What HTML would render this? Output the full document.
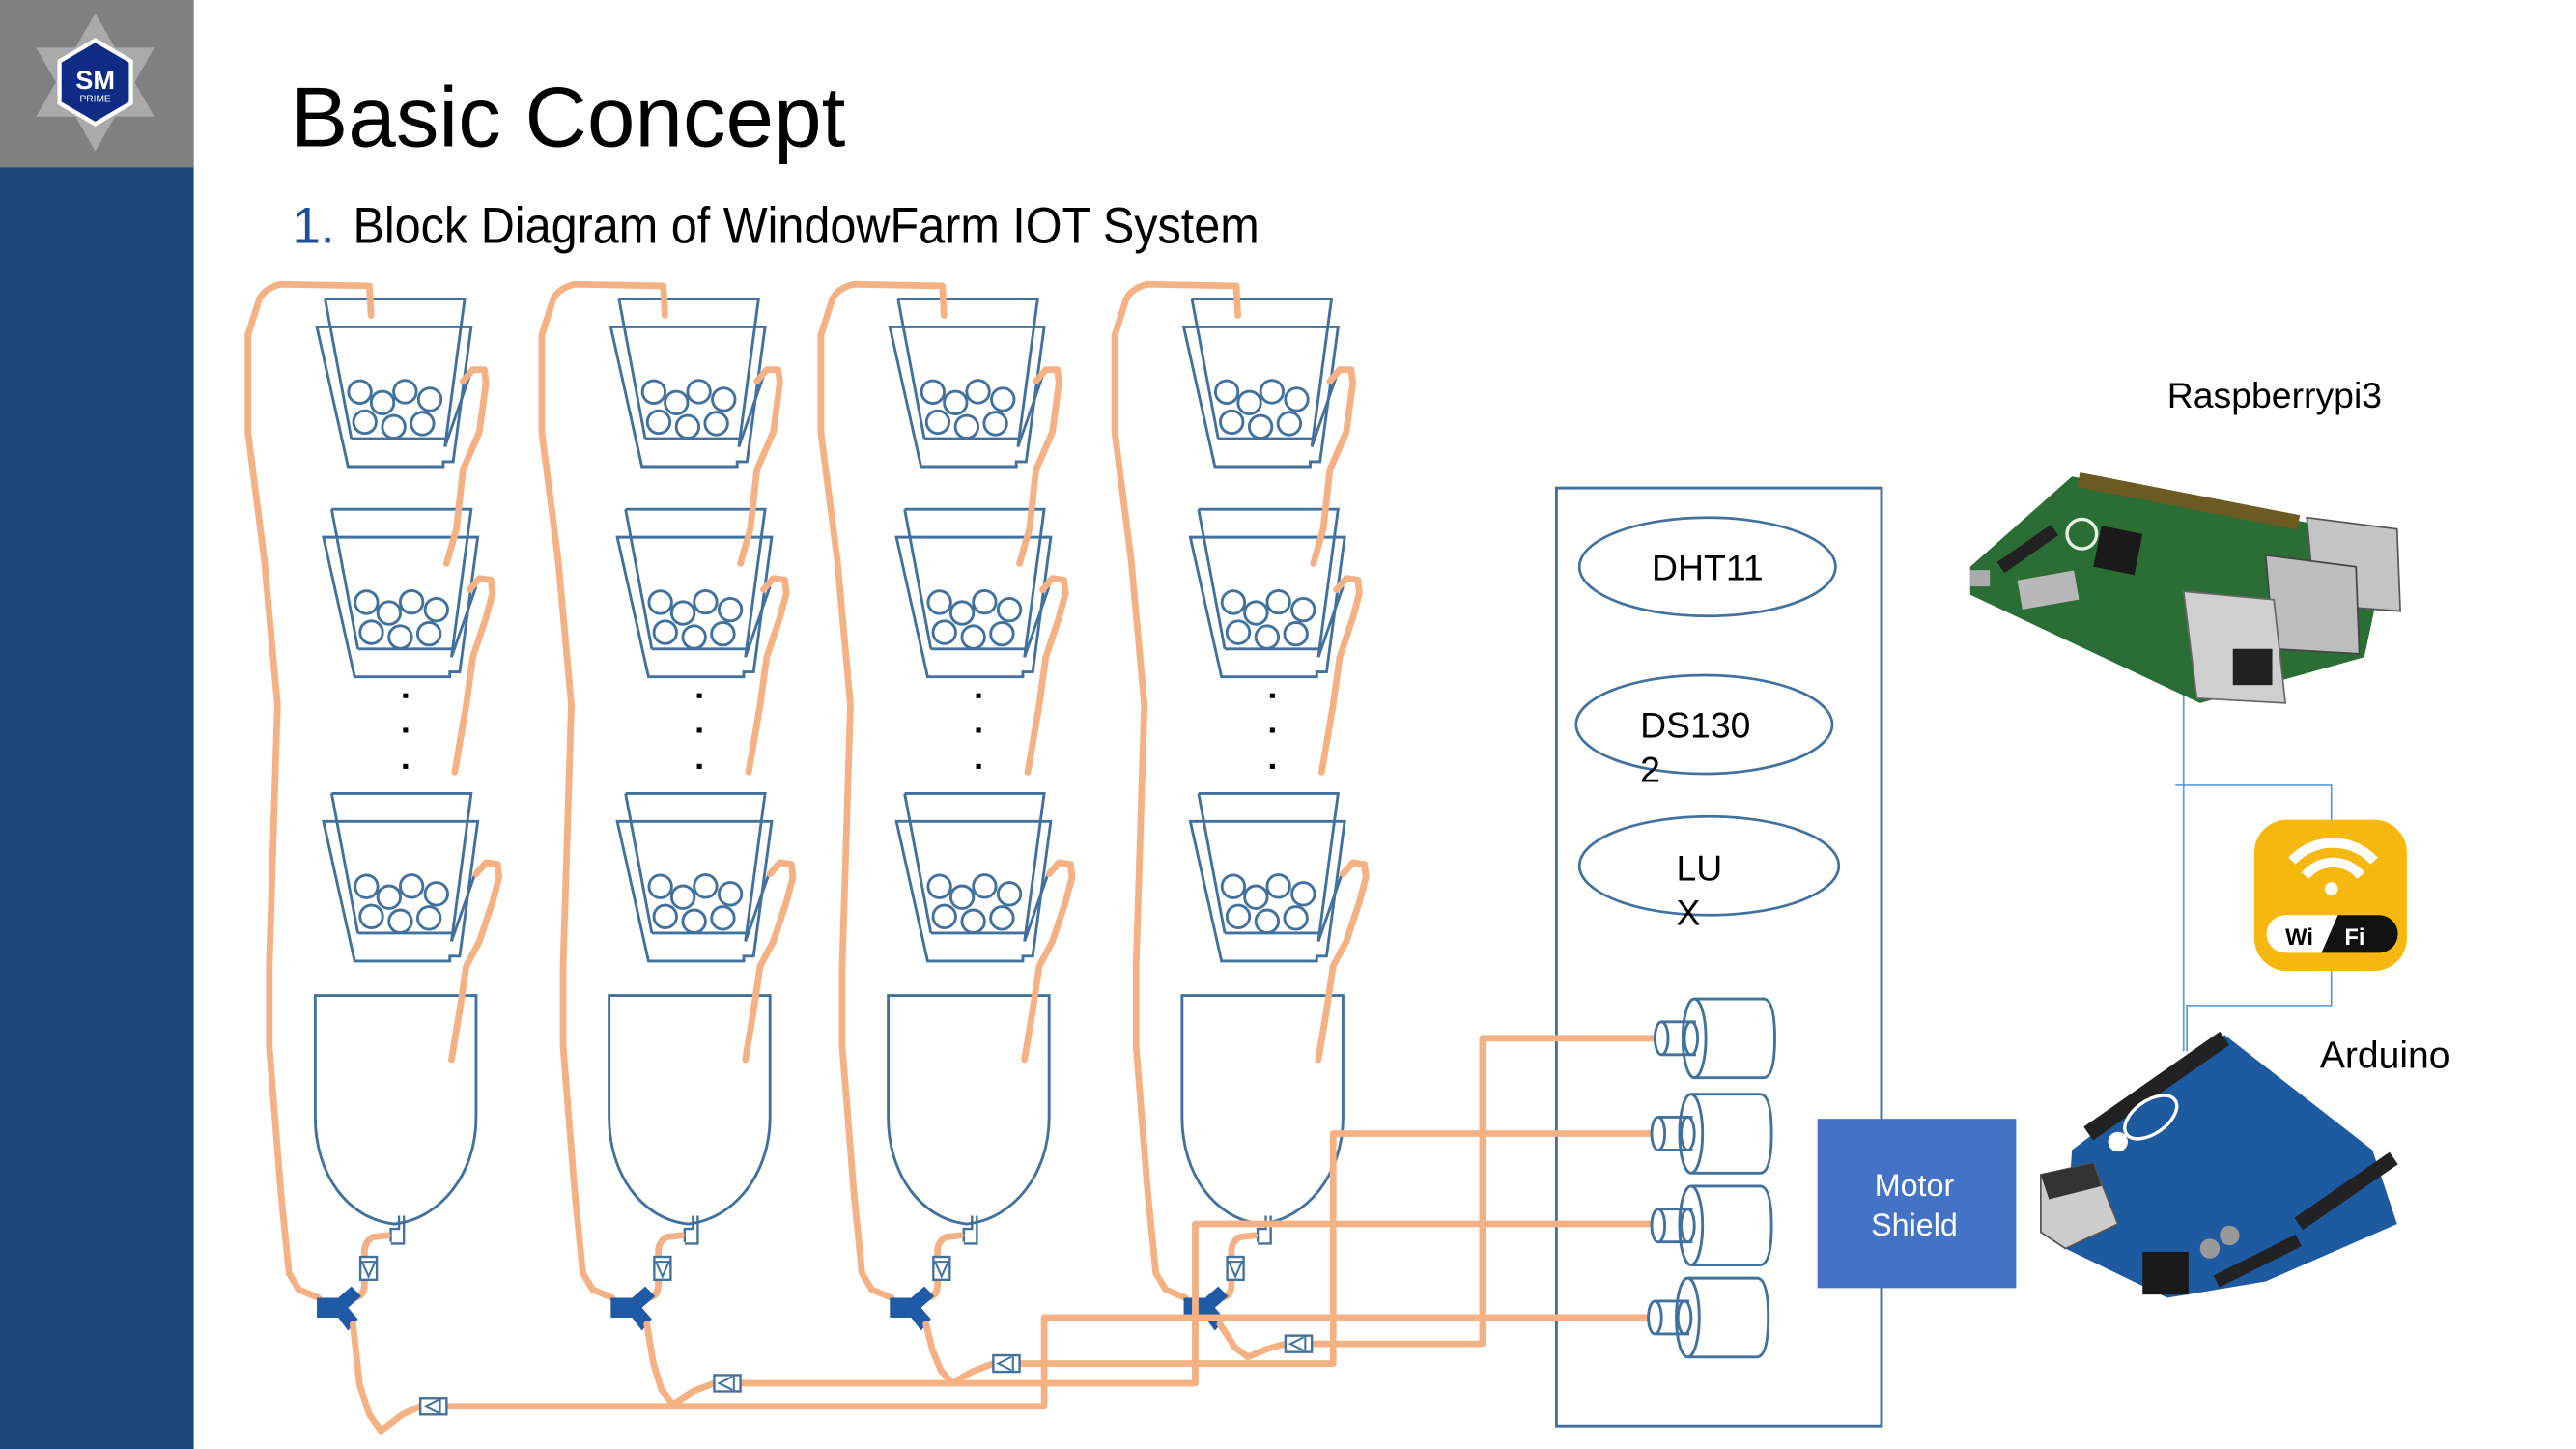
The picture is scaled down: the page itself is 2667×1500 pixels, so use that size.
<!DOCTYPE html>
<html><head><meta charset="utf-8"><style>
html,body{margin:0;padding:0;background:#fff;}
svg{display:block;}
text{font-family:"Liberation Sans",Arial,sans-serif;}
</style></head><body>
<svg width="2667" height="1500" viewBox="0 0 1569 882" preserveAspectRatio="none" xmlns="http://www.w3.org/2000/svg">
<defs>
  <g id="cup" fill="none" stroke="#41719c" stroke-width="1.7">
    <polyline points="198,182 283,182 271,272"/>
    <line x1="198" y1="182" x2="214" y2="267"/>
    <line x1="214" y1="267" x2="271" y2="267"/>
    <polygon points="193,199 287,199 276,281 270,281 270,284 212,284"/>
    <line x1="286" y1="229" x2="271" y2="272"/>
    <circle cx="219.2" cy="238.6" r="6.9"/><circle cx="233" cy="245.1" r="6.9"/>
    <circle cx="246.7" cy="238.4" r="6.9"/><circle cx="261.8" cy="243.1" r="6.9"/>
    <circle cx="222.2" cy="256.9" r="6.9"/><circle cx="239.8" cy="259.8" r="6.9"/>
    <circle cx="257.3" cy="257.8" r="6.9"/>
  </g>
  <g id="col">
    <use href="#cup"/>
    <use href="#cup" transform="translate(4,128)"/>
    <use href="#cup" transform="translate(4,301)"/>
    <rect x="245.5" y="422" width="3" height="3" fill="#000"/>
    <rect x="245.5" y="443" width="3" height="3" fill="#000"/>
    <rect x="245.5" y="465" width="3" height="3" fill="#000"/>
    <path d="M192,606 L290,606 L290,680 C290,715 268,742 240,745 C212,742 192,715 192,680 Z" fill="#fff" stroke="#41719c" stroke-width="1.7"/>
    <path d="M238,756 L238,748 L243,748 L243,740 M246,740 L246,757 L238,757" fill="none" stroke="#41719c" stroke-width="1.4"/>
    <g fill="none" stroke="#f4b183" stroke-width="4" stroke-linecap="round" stroke-linejoin="round">
      <path d="M226,192 L225,174 L171,173 Q159,176 157,185 L151,204 L151,263 L161,341 L169,429 L164,588 L164,637 L171,725 L176,775 L182,785 L194,790"/>
      <path d="M282,232 L288,225 L295,225 L296,233 L292,263 L282,286 L278,322 L272,343"/>
      <path d="M286,359 L292,352 L299,353 L300,361 L296,376 L288,400 L284,429 L277,470"/>
      <path d="M290,532 L296,525 L303,526 L304,534 L300,549 L292,573 L284,588 L280,615 L275,645"/>
      <path d="M236,752 L227,753 Q222,756 222,762 L222,782 Q222,789 216,790"/>
    </g>
    <rect x="219.5" y="765" width="10" height="14" fill="#fff" stroke="#41719c" stroke-width="1.4"/>
    <path d="M219.5,768 L229.5,768 M220.5,768 L224.5,777 L228.5,768" fill="none" stroke="#41719c" stroke-width="1.2"/>
    <path d="M193,790 L206,790 L214,783 L220,789 L212,796 L218,803 L212,810 L206,802 L193,802 Z" fill="#1f5aa6"/>
  </g>
  <g id="hv">
    <rect x="0" y="-5" width="16" height="10" fill="#fff" stroke="#41719c" stroke-width="1.4"/>
    <path d="M12,-5 L12,5 M11,-4 L3,0 L11,4" fill="none" stroke="#41719c" stroke-width="1.2"/>
  </g>
  <g id="pump" fill="#fff" stroke="#41719c" stroke-width="1.7">
    <path d="M1032,-24 L1074,-24 Q1081,-24 1081,0 Q1081,24 1074,24 L1032,24"/>
    <ellipse cx="1032" cy="0" rx="7" ry="24"/>
    <path d="M1012,-10 L1033,-10 M1012,10 L1033,10" fill="none"/>
    <ellipse cx="1030" cy="0" rx="4" ry="10" fill="none"/>
    <ellipse cx="1012" cy="0" rx="4" ry="10"/>
  </g>
</defs>

<rect x="0" y="0" width="118" height="882" fill="#1a467c"/>
<rect x="0" y="0" width="118" height="102" fill="#808080"/>
<g transform="translate(58,50)">
  <g fill="#b4b4b4">
    <polygon points="0,-42 36,21 -36,21" opacity="0.8"/>
    <polygon points="0,42 36,-21 -36,-21" opacity="0.8"/>
  </g>
  <polygon points="0,-27 23,-13.5 23,13.5 0,27 -23,13.5 -23,-13.5" fill="#fff"/>
  <polygon points="0,-24 20.5,-12 20.5,12 0,24 -20.5,12 -20.5,-12" fill="#0f2b84"/>
  <text x="0" y="4" font-size="16" font-weight="bold" fill="#fff" text-anchor="middle">SM</text>
  <text x="0" y="12" font-size="6" fill="#fff" text-anchor="middle">PRIME</text>
</g>

<text x="177" y="89" font-size="52" fill="#000" textLength="338" lengthAdjust="spacingAndGlyphs">Basic Concept</text>
<text x="178" y="148" font-size="31" fill="#1f4e99">1.</text>
<text x="215" y="148" font-size="31" fill="#000" textLength="552" lengthAdjust="spacingAndGlyphs">Block Diagram of WindowFarm IOT System</text>

<use href="#col"/>
<use href="#col" transform="translate(179,0)"/>
<use href="#col" transform="translate(349,0)"/>
<use href="#col" transform="translate(528,0)"/>

<rect x="948" y="297" width="198" height="571" fill="none" stroke="#41719c" stroke-width="1.7"/>
<ellipse cx="1040" cy="345" rx="78" ry="30" fill="none" stroke="#41719c" stroke-width="1.6"/>
<ellipse cx="1038" cy="441" rx="78" ry="30" fill="none" stroke="#41719c" stroke-width="1.6"/>
<ellipse cx="1041" cy="527" rx="79" ry="30" fill="none" stroke="#41719c" stroke-width="1.6"/>
<text x="1006" y="353" font-size="22">DHT11</text>
<text x="999" y="449" font-size="22">DS130</text>
<text x="999" y="476" font-size="22">2</text>
<text x="1021" y="536" font-size="22">LU</text>
<text x="1021" y="563" font-size="22">X</text>

<g fill="none" stroke="#f4b183" stroke-width="4" stroke-linejoin="round" stroke-linecap="round">
  <path d="M215,806 L219,843 L225,861 L232,871 L245,861 L256,856 L636,856 L636,802 L1008,802"/>
  <path d="M394,806 L398,830 L403,846 L410,855 L422,847 L435,842 L728,842 L728,745 L1008,745"/>
  <path d="M564,806 L568,822 L573,834 L580,842 L592,835 L605,830 L812,830 L812,690 L1008,690"/>
  <path d="M743,806 L747,812 L752,820 L760,826 L772,821 L783,818 L903,818 L903,632 L1008,632"/>
</g>
<use href="#hv" transform="translate(256,856)"/>
<use href="#hv" transform="translate(435,842)"/>
<use href="#hv" transform="translate(605,830)"/>
<use href="#hv" transform="translate(783,818)"/>

<use href="#pump" transform="translate(0,632)"/>
<use href="#pump" transform="translate(-2,690)"/>
<use href="#pump" transform="translate(-2,746)"/>
<use href="#pump" transform="translate(-4,802)"/>

<rect x="1107" y="681" width="121" height="103" fill="#4472c4"/>
<text x="1166" y="728" font-size="19" fill="#fff" text-anchor="middle">Motor</text>
<text x="1166" y="752" font-size="19" fill="#fff" text-anchor="middle">Shield</text>

<g fill="none" stroke="#5b9bd5" stroke-width="1">
  <path d="M1330,415 L1330,640"/>
  <path d="M1325,478 L1420,478 L1420,500"/>
  <path d="M1420,590 L1420,612 L1332,612 L1332,640"/>
</g>

<text x="1320" y="248" font-size="22">Raspberrypi3</text>
<g>
  <polygon points="1200,345 1262,290 1405,318 1455,330 1440,400 1340,428 1200,362" fill="#2a6e35"/>
  <line x1="1266" y1="292" x2="1400" y2="318" stroke="#6b5a22" stroke-width="9"/>
  <polygon points="1280,320 1305,325 1300,350 1275,345" fill="#1a1a1a"/>
  <circle cx="1268" cy="325" r="9" fill="none" stroke="#e8f0e0" stroke-width="2"/>
  <rect x="1230" y="350" width="35" height="18" fill="#b8b8b8" transform="rotate(-10 1248 359)"/>
  <polygon points="1405,315 1460,322 1462,372 1410,368" fill="#c4c4c4" stroke="#555"/>
  <polygon points="1380,338 1435,345 1437,398 1385,395" fill="#bdbdbd" stroke="#444"/>
  <polygon points="1330,360 1385,365 1392,428 1338,425" fill="#cfcfcf" stroke="#666"/>
  <rect x="1360" y="395" width="24" height="22" fill="#222"/>
  <rect x="1200" y="347" width="12" height="10" fill="#aaa"/>
  <rect x="1215" y="330" width="40" height="8" fill="#222" transform="rotate(-35 1235 334)"/>
</g>

<rect x="1373" y="499" width="93" height="92" rx="20" fill="#f6b80f"/>
<g fill="none" stroke="#fff" stroke-width="6" stroke-linecap="butt">
  <path d="M1396,524 A34,34 0 0 1 1446,524"/>
  <path d="M1404,533 A22,22 0 0 1 1438,533"/>
</g>
<circle cx="1420" cy="541" r="4" fill="#fff"/>
<path d="M1392,557 L1424,557 L1414,580 L1392,580 A11.5,11.5 0 0 1 1392,557 Z" fill="#fff"/>
<path d="M1424,557 L1449,557 A11.5,11.5 0 0 1 1449,580 L1414,580 Z" fill="#111"/>
<text x="1392" y="575" font-size="14" font-weight="bold" fill="#000">Wi</text>
<text x="1428" y="575" font-size="14" font-weight="bold" fill="#fff">Fi</text>

<text x="1413" y="650" font-size="23">Arduino</text>
<g>
  <polygon points="1262,700 1355,630 1445,700 1460,745 1380,780 1320,790 1258,760" fill="#1d5aa0"/>
  <line x1="1272" y1="690" x2="1355" y2="632" stroke="#222" stroke-width="10"/>
  <line x1="1400" y1="745" x2="1458" y2="705" stroke="#222" stroke-width="9"/>
  <line x1="1350" y1="780" x2="1400" y2="755" stroke="#222" stroke-width="8"/>
  <ellipse cx="1310" cy="680" rx="18" ry="10" fill="#1d5aa0" stroke="#fff" stroke-width="2" transform="rotate(-35 1310 680)"/>
  <circle cx="1290" cy="695" r="6" fill="#fff"/>
  <polygon points="1243,715 1275,708 1290,745 1258,760 1243,750" fill="#ccc" stroke="#555"/>
  <polygon points="1243,715 1275,708 1280,722 1248,730" fill="#333"/>
  <rect x="1305" y="762" width="28" height="26" fill="#1a1a1a"/>
  <circle cx="1346" cy="760" r="6" fill="#999"/>
  <circle cx="1358" cy="752" r="6" fill="#999"/>
</g>
</svg>
</body></html>
